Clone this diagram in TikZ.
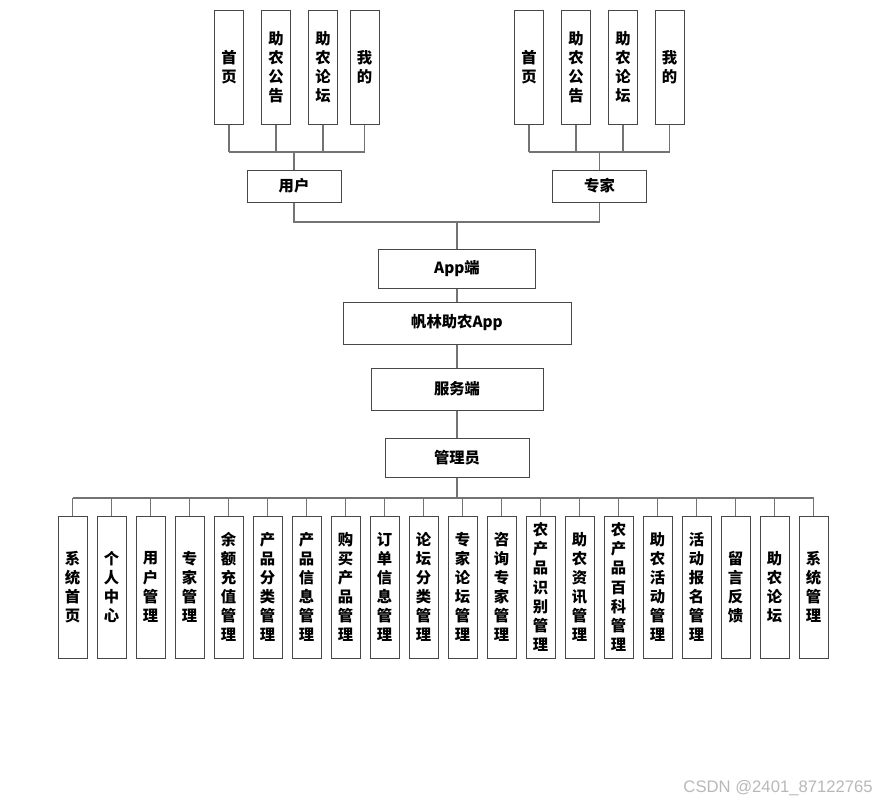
\documentclass[tikz,border=0pt]{standalone}
\usepackage{fontspec}
\newfontfamily\cjk{Noto Sans CJK SC}
\newfontfamily\wmfont{Liberation Sans}
\begin{document}
\begin{tikzpicture}[x=0.75pt,y=-0.75pt,
  box/.style={draw=black!72,line width=0.75pt,fill=white,inner sep=0pt,align=center,
    font=\cjk\bfseries\fontsize{11.5}{14.3}\selectfont},
  vbox/.style={box,minimum width=29*0.75pt,minimum height=114*0.75pt},
  bbox/.style={box,minimum width=29*0.75pt,minimum height=142*0.75pt},
  conn/.style={draw=black!55,line width=0.9pt}]
\useasboundingbox (0,0) rectangle (877,804);
% top left group
\node[vbox] (a1) at (229,67) {首\\页};
\node[vbox] (a2) at (276,67) {助\\农\\公\\告};
\node[vbox] (a3) at (323,67) {助\\农\\论\\坛};
\node[vbox] (a4) at (364.5,67) {我\\的};
\node[box,minimum width=94*0.75pt,minimum height=32*0.75pt] (user) at (294,186) {用户};
% top right group
\node[vbox] (b1) at (529,67) {首\\页};
\node[vbox] (b2) at (576,67) {助\\农\\公\\告};
\node[vbox] (b3) at (623,67) {助\\农\\论\\坛};
\node[vbox] (b4) at (669.5,67) {我\\的};
\node[box,minimum width=94*0.75pt,minimum height=32*0.75pt] (expert) at (599.5,186) {专家};
% middle chain
\node[box,minimum width=157*0.75pt,minimum height=39*0.75pt] (app) at (457,268.5) {App端};
\node[box,minimum width=228*0.75pt,minimum height=42*0.75pt] (fl) at (457,323) {帆林助农App};
\node[box,minimum width=172*0.75pt,minimum height=42*0.75pt] (srv) at (457,389) {服务端};
\node[box,minimum width=144*0.75pt,minimum height=39*0.75pt] (adm) at (457,457.5) {管理员};
% bus coordinates
\coordinate (ubus) at (294,152);
\coordinate (ebus) at (599.5,152);
\coordinate (mid) at (457,222);
\coordinate (abus) at (457,498);
% top connectors
\foreach \n in {a1,a2,a3,a4}{\draw[conn] (\n.south) -- (\n.south |- ubus);}
\draw[conn] (a1.south |- ubus) -- (a4.south |- ubus);
\draw[conn] (ubus) -- (user.north);
\foreach \n in {b1,b2,b3,b4}{\draw[conn] (\n.south) -- (\n.south |- ebus);}
\draw[conn] (b1.south |- ebus) -- (b4.south |- ebus);
\draw[conn] (ebus) -- (expert.north);
\draw[conn] (user.south) |- (mid);
\draw[conn] (expert.south) |- (mid);
\draw[conn] (mid) -- (app.north);
\draw[conn] (app.south) -- (fl.north);
\draw[conn] (fl.south) -- (srv.north);
\draw[conn] (srv.south) -- (adm.north);
\draw[conn] (adm.south) -- (abus);
% bottom row
\foreach \t [count=\i from 0] in {{系\\统\\首\\页},{个\\人\\中\\心},{用\\户\\管\\理},{专\\家\\管\\理},
  {余\\额\\充\\值\\管\\理},{产\\品\\分\\类\\管\\理},{产\\品\\信\\息\\管\\理},{购\\买\\产\\品\\管\\理},
  {订\\单\\信\\息\\管\\理},{论\\坛\\分\\类\\管\\理},{专\\家\\论\\坛\\管\\理},{咨\\询\\专\\家\\管\\理},
  {农\\产\\品\\识\\别\\管\\理},{助\\农\\资\\讯\\管\\理},{农\\产\\品\\百\\科\\管\\理},{助\\农\\活\\动\\管\\理},
  {活\\动\\报\\名\\管\\理},{留\\言\\反\\馈},{助\\农\\论\\坛},{系\\统\\管\\理}}{
  \node[bbox] (c\i) at ({72.5+39*\i},587) {\t};
  \draw[conn] (c\i.north) -- (c\i.north |- abus);
}
\draw[conn] (c0.north |- abus) -- (c19.north |- abus);
% watermark
\node[anchor=east,inner sep=0pt,text=black!28,font=\wmfont\fontsize{12.5}{14}\selectfont] (wm) at (873,788) {CSDN @2401\_87122765};
\end{tikzpicture}
\end{document}
